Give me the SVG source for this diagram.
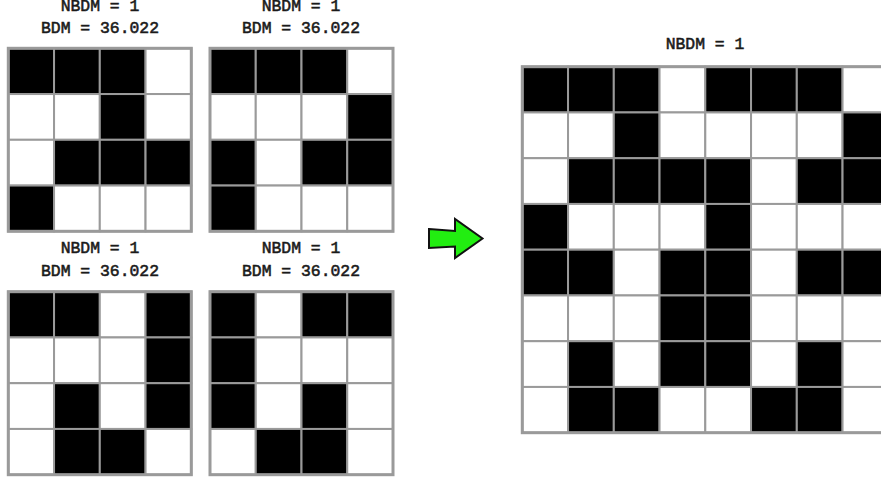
<svg xmlns="http://www.w3.org/2000/svg" width="881" height="479" viewBox="0 0 881 479">
<style>
text{font-family:"Liberation Mono","Courier New",monospace;font-size:16.4px;font-weight:normal;fill:#1a1a1a;stroke:#1a1a1a;stroke-width:0.55;text-anchor:middle}
.b{fill:#000;stroke:#9a9a9a;stroke-width:2}
.w{fill:#fff;stroke:#9a9a9a;stroke-width:2}
.o{fill:none;stroke:#9a9a9a;stroke-width:3}
</style>
<defs>
<rect id="B" class="b" width="45.75" height="45.75"/>
<rect id="W" class="w" width="45.75" height="45.75"/>
</defs>
<rect width="881" height="479" fill="#fff"/>
<g id="grid-top-left">
<text x="100" y="10.5">NBDM = 1</text>
<text x="100" y="33">BDM = 36.022</text>
<g transform="translate(8.3,48.3)">
<use href="#B" x="0" y="0"/><use href="#B" x="45.75" y="0"/><use href="#B" x="91.5" y="0"/><use href="#W" x="137.25" y="0"/>
<use href="#W" x="0" y="45.75"/><use href="#W" x="45.75" y="45.75"/><use href="#B" x="91.5" y="45.75"/><use href="#W" x="137.25" y="45.75"/>
<use href="#W" x="0" y="91.5"/><use href="#B" x="45.75" y="91.5"/><use href="#B" x="91.5" y="91.5"/><use href="#B" x="137.25" y="91.5"/>
<use href="#B" x="0" y="137.25"/><use href="#W" x="45.75" y="137.25"/><use href="#W" x="91.5" y="137.25"/><use href="#W" x="137.25" y="137.25"/>
<rect class="o" width="183" height="183"/>
</g>
</g>
<g id="grid-top-right">
<text x="301" y="10.5">NBDM = 1</text>
<text x="301" y="33">BDM = 36.022</text>
<g transform="translate(210,48.3)">
<use href="#B" x="0" y="0"/><use href="#B" x="45.75" y="0"/><use href="#B" x="91.5" y="0"/><use href="#W" x="137.25" y="0"/>
<use href="#W" x="0" y="45.75"/><use href="#W" x="45.75" y="45.75"/><use href="#W" x="91.5" y="45.75"/><use href="#B" x="137.25" y="45.75"/>
<use href="#B" x="0" y="91.5"/><use href="#W" x="45.75" y="91.5"/><use href="#B" x="91.5" y="91.5"/><use href="#B" x="137.25" y="91.5"/>
<use href="#B" x="0" y="137.25"/><use href="#W" x="45.75" y="137.25"/><use href="#W" x="91.5" y="137.25"/><use href="#W" x="137.25" y="137.25"/>
<rect class="o" width="183" height="183"/>
</g>
</g>
<g id="grid-bottom-left">
<text x="100" y="253">NBDM = 1</text>
<text x="100" y="276">BDM = 36.022</text>
<g transform="translate(8.3,291.7)">
<use href="#B" x="0" y="0"/><use href="#B" x="45.75" y="0"/><use href="#W" x="91.5" y="0"/><use href="#B" x="137.25" y="0"/>
<use href="#W" x="0" y="45.75"/><use href="#W" x="45.75" y="45.75"/><use href="#W" x="91.5" y="45.75"/><use href="#B" x="137.25" y="45.75"/>
<use href="#W" x="0" y="91.5"/><use href="#B" x="45.75" y="91.5"/><use href="#W" x="91.5" y="91.5"/><use href="#B" x="137.25" y="91.5"/>
<use href="#W" x="0" y="137.25"/><use href="#B" x="45.75" y="137.25"/><use href="#B" x="91.5" y="137.25"/><use href="#W" x="137.25" y="137.25"/>
<rect class="o" width="183" height="183"/>
</g>
</g>
<g id="grid-bottom-right">
<text x="301" y="253">NBDM = 1</text>
<text x="301" y="276">BDM = 36.022</text>
<g transform="translate(210,291.7)">
<use href="#B" x="0" y="0"/><use href="#W" x="45.75" y="0"/><use href="#B" x="91.5" y="0"/><use href="#B" x="137.25" y="0"/>
<use href="#B" x="0" y="45.75"/><use href="#W" x="45.75" y="45.75"/><use href="#W" x="91.5" y="45.75"/><use href="#W" x="137.25" y="45.75"/>
<use href="#B" x="0" y="91.5"/><use href="#W" x="45.75" y="91.5"/><use href="#B" x="91.5" y="91.5"/><use href="#W" x="137.25" y="91.5"/>
<use href="#W" x="0" y="137.25"/><use href="#B" x="45.75" y="137.25"/><use href="#B" x="91.5" y="137.25"/><use href="#W" x="137.25" y="137.25"/>
<rect class="o" width="183" height="183"/>
</g>
</g>
<g id="connectors">
<polygon points="429,229 455,231 455,219 482.5,238.5 455,258 455,246.5 429,248" fill="#22ee11" stroke="#111" stroke-width="2" stroke-linejoin="miter"/>
</g>
<g id="grid-combined">
<text x="705" y="49">NBDM = 1</text>
<g transform="translate(522.3,66.7)">
<use href="#B" x="0" y="0"/><use href="#B" x="45.75" y="0"/><use href="#B" x="91.5" y="0"/><use href="#W" x="137.25" y="0"/><use href="#B" x="183" y="0"/><use href="#B" x="228.75" y="0"/><use href="#B" x="274.5" y="0"/><use href="#W" x="320.25" y="0"/>
<use href="#W" x="0" y="45.75"/><use href="#W" x="45.75" y="45.75"/><use href="#B" x="91.5" y="45.75"/><use href="#W" x="137.25" y="45.75"/><use href="#W" x="183" y="45.75"/><use href="#W" x="228.75" y="45.75"/><use href="#W" x="274.5" y="45.75"/><use href="#B" x="320.25" y="45.75"/>
<use href="#W" x="0" y="91.5"/><use href="#B" x="45.75" y="91.5"/><use href="#B" x="91.5" y="91.5"/><use href="#B" x="137.25" y="91.5"/><use href="#B" x="183" y="91.5"/><use href="#W" x="228.75" y="91.5"/><use href="#B" x="274.5" y="91.5"/><use href="#B" x="320.25" y="91.5"/>
<use href="#B" x="0" y="137.25"/><use href="#W" x="45.75" y="137.25"/><use href="#W" x="91.5" y="137.25"/><use href="#W" x="137.25" y="137.25"/><use href="#B" x="183" y="137.25"/><use href="#W" x="228.75" y="137.25"/><use href="#W" x="274.5" y="137.25"/><use href="#W" x="320.25" y="137.25"/>
<use href="#B" x="0" y="183"/><use href="#B" x="45.75" y="183"/><use href="#W" x="91.5" y="183"/><use href="#B" x="137.25" y="183"/><use href="#B" x="183" y="183"/><use href="#W" x="228.75" y="183"/><use href="#B" x="274.5" y="183"/><use href="#B" x="320.25" y="183"/>
<use href="#W" x="0" y="228.75"/><use href="#W" x="45.75" y="228.75"/><use href="#W" x="91.5" y="228.75"/><use href="#B" x="137.25" y="228.75"/><use href="#B" x="183" y="228.75"/><use href="#W" x="228.75" y="228.75"/><use href="#W" x="274.5" y="228.75"/><use href="#W" x="320.25" y="228.75"/>
<use href="#W" x="0" y="274.5"/><use href="#B" x="45.75" y="274.5"/><use href="#W" x="91.5" y="274.5"/><use href="#B" x="137.25" y="274.5"/><use href="#B" x="183" y="274.5"/><use href="#W" x="228.75" y="274.5"/><use href="#B" x="274.5" y="274.5"/><use href="#W" x="320.25" y="274.5"/>
<use href="#W" x="0" y="320.25"/><use href="#B" x="45.75" y="320.25"/><use href="#B" x="91.5" y="320.25"/><use href="#W" x="137.25" y="320.25"/><use href="#W" x="183" y="320.25"/><use href="#B" x="228.75" y="320.25"/><use href="#B" x="274.5" y="320.25"/><use href="#W" x="320.25" y="320.25"/>
<rect class="o" width="366" height="366"/>
</g>
</g>
</svg>
